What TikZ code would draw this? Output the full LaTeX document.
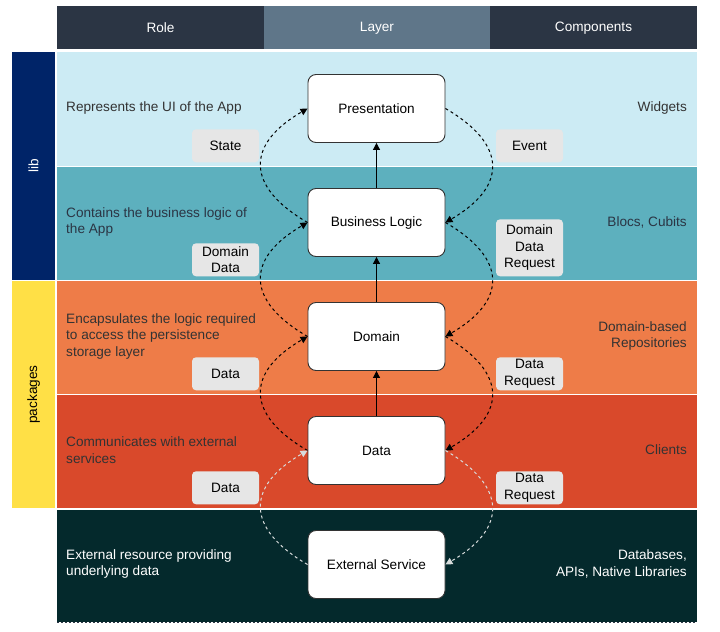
\documentclass[tikz,border=0pt]{standalone}
\usepackage{fontspec}
\setmainfont{Liberation Sans}
\usetikzlibrary{positioning,arrows.meta}

\definecolor{headdark}{HTML}{2B3544}
\definecolor{headmid}{HTML}{5F7689}
\definecolor{uiblue}{HTML}{CCEBF4}
\definecolor{logicteal}{HTML}{5DB0BE}
\definecolor{domorange}{HTML}{EE7C48}
\definecolor{datared}{HTML}{D9492B}
\definecolor{extgreen}{HTML}{04292C}
\definecolor{libnavy}{HTML}{002468}
\definecolor{pkgyellow}{HTML}{FFE046}
\definecolor{tagfill}{HTML}{E6E6E6}
\definecolor{inktext}{HTML}{333333}
\definecolor{ghost}{HTML}{D8DCDC}

\tikzset{
	txt/.style={font=\fontsize{13.6bp}{16.5bp}\selectfont},
	headcell/.style={txt, text=white, minimum height=43bp, inner sep=0pt},
	layerbox/.style={txt, draw=black!80, fill=white, rounded corners=8bp, minimum width=137bp, minimum height=68bp, line width=0.9bp},
	tagbox/.style={txt, fill=tagfill, rounded corners=4bp, minimum width=67bp, minimum height=33bp, align=center, inner sep=2bp, anchor=south},
	roletext/.style={txt, text=inktext, anchor=west, align=left, inner sep=0pt},
	comptext/.style={txt, text=inktext, anchor=east, align=right, inner sep=0pt},
	flow/.style={line width=1bp, dash pattern=on 3bp off 3bp, -{Triangle[length=7bp,width=7bp]}},
	push/.style={line width=1bp, -{Triangle[length=7bp,width=7bp]}}
}

\begin{document}
\begin{tikzpicture}[x=1bp, y=-1bp, node distance=45.1bp]

	\useasboundingbox (0,0) rectangle (720,632);

	\fill[uiblue] (57,52) rectangle (697,166);
	\fill[logicteal] (57,167) rectangle (697,280);
	\fill[domorange] (57,281) rectangle (697,394);
	\fill[datared] (57,395) rectangle (697,508);
	\fill[extgreen] (57,510) rectangle (697,622);
	\draw[headdark, dash pattern=on 2bp off 2bp, line width=1bp] (57,622) -- (697,622);

	\fill[libnavy] (12,52) rectangle (55,280);
	\fill[pkgyellow] (12,281) rectangle (55,508);
	\node[txt, text=white, rotate=90] (lib) at (33.5,166) {lib};
	\node[txt, rotate=90] (pkg) at (33.5,394.5) {packages};

	\node[headcell, fill=headdark, minimum width=207bp] (role) at (160.5,28) {Role};
	\node[headcell, fill=headmid, minimum width=226bp] (layer) at (377,28) {Layer};
	\node[headcell, fill=headdark, minimum width=207bp] (comps) at (593.5,28) {Components};

	\node[layerbox] (pres) at (376.5,108.5) {Presentation};
	\node[layerbox, below=of pres] (logic) {Business Logic};
	\node[layerbox, below=of logic] (domain) {Domain};
	\node[layerbox, below=of domain] (data) {Data};
	\node[layerbox, below=of data] (ext) {External Service};

	\node[roletext] (rpres) at (66,108) {Represents the UI of the App};
	\node[roletext, text=headdark] (rlogic) at (66,222) {Contains the business logic of\\the App};
	\node[roletext] (rdomain) at (66,336) {Encapsulates the logic required\\to access the persistence\\storage layer};
	\node[roletext] (rdata) at (66,450) {Communicates with external\\services};
	\node[roletext, text=white] (rext) at (66,564) {External resource providing\\underlying data};

	\node[comptext] (cpres) at (687,108) {Widgets};
	\node[comptext, text=headdark] (clogic) at (687,222) {Blocs, Cubits};
	\node[comptext] (cdomain) at (687,336) {Domain-based\\Repositories};
	\node[comptext] (cdata) at (687,450) {Clients};
	\node[comptext, text=white] (cext) at (687,564) {Databases,\\APIs, Native Libraries};

	\node[tagbox] (state) at (225.5,162.5) {State};
	\node[tagbox] (event) at (529.5,162.5) {Event};
	\node[tagbox] (domdata) at (225.5,276.5) {Domain\\Data};
	\node[tagbox, minimum height=57bp] (domreq) at (529.5,276.5) {Domain\\Data\\Request};
	\node[tagbox] (repodata) at (225.5,390.5) {Data};
	\node[tagbox] (reporeq) at (529.5,390.5) {Data\\Request};
	\node[tagbox] (clientdata) at (225.5,504.5) {Data};
	\node[tagbox] (clientreq) at (529.5,504.5) {Data\\Request};

	\draw[push] (logic) -- (pres);
	\draw[push] (domain) -- (logic);
	\draw[push] (data) -- (domain);

	\draw[flow] (logic.west) .. controls +(-62,-36) and +(-62,36) .. (pres.west);
	\draw[flow] (domain.west) .. controls +(-62,-36) and +(-62,36) .. (logic.west);
	\draw[flow] (data.west) .. controls +(-62,-36) and +(-62,36) .. (domain.west);
	\draw[flow, ghost] (ext.west) .. controls +(-62,-36) and +(-62,36) .. (data.west);

	\draw[flow] (pres.east) .. controls +(62,36) and +(62,-36) .. (logic.east);
	\draw[flow] (logic.east) .. controls +(62,36) and +(62,-36) .. (domain.east);
	\draw[flow] (domain.east) .. controls +(62,36) and +(62,-36) .. (data.east);
	\draw[flow, ghost] (data.east) .. controls +(62,36) and +(62,-36) .. (ext.east);

\end{tikzpicture}
\end{document}
